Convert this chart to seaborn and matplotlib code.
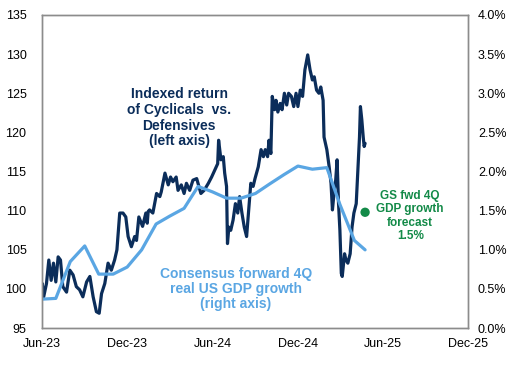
import matplotlib
matplotlib.use("Agg")
import matplotlib.pyplot as plt
import matplotlib.dates as mdates
import pandas as pd
import seaborn as sns

# Indexed return of Cyclicals vs. Defensives (left axis)
cyc_dates = [
    "2023-06-01", "2023-06-02", "2023-06-05", "2023-06-11", "2023-06-16", "2023-06-21", "2023-06-26",
    "2023-07-01", "2023-07-06", "2023-07-11", "2023-07-16", "2023-07-24", "2023-07-31",
    "2023-08-07", "2023-08-14", "2023-08-21", "2023-08-28", "2023-09-05", "2023-09-12",
    "2023-09-19", "2023-09-26", "2023-10-02", "2023-10-07", "2023-10-14", "2023-10-21",
    "2023-10-28", "2023-11-04", "2023-11-09", "2023-11-15", "2023-11-22", "2023-11-28",
    "2023-12-03", "2023-12-10", "2023-12-17", "2023-12-21", "2023-12-26", "2024-01-03",
    "2024-01-10", "2024-01-13", "2024-01-15", "2024-01-18", "2024-01-25", "2024-02-02",
    "2024-02-09", "2024-02-12", "2024-02-20", "2024-02-27", "2024-03-03", "2024-03-08",
    "2024-03-15", "2024-03-19", "2024-03-26", "2024-04-01", "2024-04-06", "2024-04-13",
    "2024-04-20", "2024-04-28", "2024-05-07", "2024-05-14", "2024-05-23", "2024-05-30",
    "2024-06-06", "2024-06-12", "2024-06-14", "2024-06-19", "2024-06-24", "2024-06-27",
    "2024-07-01", "2024-07-03", "2024-07-06", "2024-07-10", "2024-07-15", "2024-07-20",
    "2024-07-25", "2024-07-29", "2024-08-03", "2024-08-08", "2024-08-13", "2024-08-18",
    "2024-08-22", "2024-08-27", "2024-08-31", "2024-09-07", "2024-09-13", "2024-09-18",
    "2024-09-22", "2024-09-27", "2024-09-30", "2024-10-04", "2024-10-07", "2024-10-12",
    "2024-10-15", "2024-10-19", "2024-10-24", "2024-10-28", "2024-11-02", "2024-11-07",
    "2024-11-11", "2024-11-17", "2024-11-22", "2024-11-27", "2024-12-01", "2024-12-06",
    "2024-12-11", "2024-12-16", "2024-12-22", "2024-12-27", "2025-01-01", "2025-01-05",
    "2025-01-10", "2025-01-15", "2025-01-19", "2025-01-24", "2025-01-26", "2025-02-01",
    "2025-02-06", "2025-02-10", "2025-02-13", "2025-02-17", "2025-02-20", "2025-02-23",
    "2025-02-26", "2025-03-01", "2025-03-04", "2025-03-06", "2025-03-11", "2025-03-14",
    "2025-03-18", "2025-03-23", "2025-03-27", "2025-03-31", "2025-04-05", "2025-04-09",
    "2025-04-12", "2025-04-14", "2025-04-17", "2025-04-20", "2025-04-22", "2025-04-24",
]
cyc_values = [
    100.0, 100.7, 99.0, 100.7, 103.7, 101.1, 103.3,
    100.9, 104.1, 103.7, 100.3, 99.6, 102.4,
    101.8, 100.3, 99.9, 99.0, 100.9, 101.6,
    99.0, 97.1, 96.9, 99.4, 100.7, 103.3,
    102.4, 103.7, 105.0, 109.7, 109.7, 109.2,
    106.7, 105.4, 106.7, 106.2, 109.2, 108.0,
    109.7, 108.4, 109.9, 110.1, 109.7, 112.2,
    111.8, 112.4, 114.8, 113.3, 114.3, 113.7,
    114.3, 112.6, 113.3, 112.2, 113.5, 112.6,
    113.9, 114.1, 112.2, 112.6, 113.5, 114.3,
    115.2, 116.0, 119.0, 116.5, 116.9, 114.8,
    113.1, 105.8, 107.9, 107.5, 108.8, 110.9,
    109.7, 111.8, 109.7, 107.9, 106.7, 110.5,
    113.5, 113.1, 114.1, 115.6, 117.8, 116.9,
    117.8, 116.9, 119.0, 117.3, 124.6, 122.9,
    124.1, 122.6, 123.7, 122.9, 125.0, 123.5,
    125.0, 124.6, 123.3, 125.0, 123.3, 125.4,
    124.6, 128.0, 129.9, 128.0, 126.7, 127.1,
    125.4, 125.0, 125.8, 124.1, 119.4, 117.8,
    115.6, 113.5, 110.1, 112.6, 113.9, 116.5,
    111.0, 107.5, 102.0, 101.6, 104.5, 103.7,
    103.3, 104.5, 107.9, 109.7, 110.9, 115.6,
    119.4, 123.3, 121.6, 119.4, 118.2, 118.6,
]

# Consensus forward 4Q real US GDP growth, % (right axis)
gdp_dates = [
    "2023-06-01", "2023-07-01", "2023-08-01", "2023-09-01", "2023-10-01", "2023-11-01",
    "2023-12-01", "2024-01-01", "2024-02-01", "2024-03-01", "2024-04-01", "2024-05-01",
    "2024-06-01", "2024-07-01", "2024-08-01", "2024-09-01", "2024-10-01", "2024-11-01",
    "2024-12-01", "2025-01-01", "2025-02-01", "2025-03-01", "2025-04-01", "2025-04-24",
]
gdp_values = [
    0.37, 0.38, 0.85, 1.05, 0.69, 0.69,
    0.78, 1.00, 1.33, 1.43, 1.53, 1.81,
    1.74, 1.66, 1.66, 1.72, 1.84, 1.96,
    2.07, 2.03, 2.05, 1.58, 1.12, 1.00,
]

gs_dates = ["2025-04-24"]
gs_values = [1.48]

navy = "#0B2D5A"
light = "#5AA6E3"
green = "#138A48"
grey = "#8C8C8C"

sns.set_style("white")
plt.rcParams["font.family"] = ["Liberation Sans", "DejaVu Sans"]

df_cyc = pd.DataFrame({"date": pd.to_datetime(cyc_dates), "value": cyc_values})
df_gdp = pd.DataFrame({"date": pd.to_datetime(gdp_dates), "value": gdp_values})
df_gs = pd.DataFrame({"date": pd.to_datetime(gs_dates), "value": gs_values})

fig, ax = plt.subplots(figsize=(5.1, 3.65), dpi=100)
fig.subplots_adjust(left=0.082, right=0.918, top=0.959, bottom=0.101)
ax2 = ax.twinx()

sns.lineplot(data=df_cyc, x="date", y="value", ax=ax, color=navy, linewidth=2.3)
sns.lineplot(data=df_gdp, x="date", y="value", ax=ax2, color=light, linewidth=2.3)
sns.scatterplot(data=df_gs, x="date", y="value", ax=ax2, color=green, s=45, edgecolor="none")

ax.set_xlim(pd.Timestamp("2023-06-01"), pd.Timestamp("2025-12-01"))
ax.set_ylim(95, 135)
ax.set_yticks(range(95, 136, 5))
ax2.set_ylim(0, 4)
ax2.set_yticks([i * 0.5 for i in range(9)])
ax2.yaxis.set_major_formatter(matplotlib.ticker.FuncFormatter(lambda v, p: f"{v:.1f}%"))

ax.xaxis.set_major_locator(mdates.MonthLocator(bymonth=[6, 12]))
ax.xaxis.set_major_formatter(mdates.DateFormatter("%b-%y"))

for a in (ax, ax2):
    a.set_xlabel("")
    a.set_ylabel("")
    for s in a.spines.values():
        s.set_color(grey)
        s.set_linewidth(1.0)

ax.tick_params(axis="x", length=4, width=1, color=grey, direction="out", pad=3, labelsize=9, labelcolor="black")
ax.tick_params(axis="y", length=0, pad=11, labelsize=9, labelcolor="black")
ax2.tick_params(axis="y", length=0, pad=7, labelsize=9, labelcolor="black")

ax.text(0.322, 0.672, "Indexed return\nof Cyclicals  vs.\nDefensives\n(left axis)",
        transform=ax.transAxes, ha="center", va="center", fontsize=10,
        fontweight="bold", color=navy, linespacing=1.15)
ax.text(0.455, 0.126, "Consensus forward 4Q\nreal US GDP growth\n(right axis)",
        transform=ax.transAxes, ha="center", va="center", fontsize=10,
        fontweight="bold", color=light, linespacing=1.1)
ax.text(0.864, 0.358, "GS fwd 4Q\nGDP growth\nforecast\n1.5%",
        transform=ax.transAxes, ha="center", va="center", fontsize=8.5,
        fontweight="bold", color=green, linespacing=1.15)

fig.savefig("out.png", dpi=100)
